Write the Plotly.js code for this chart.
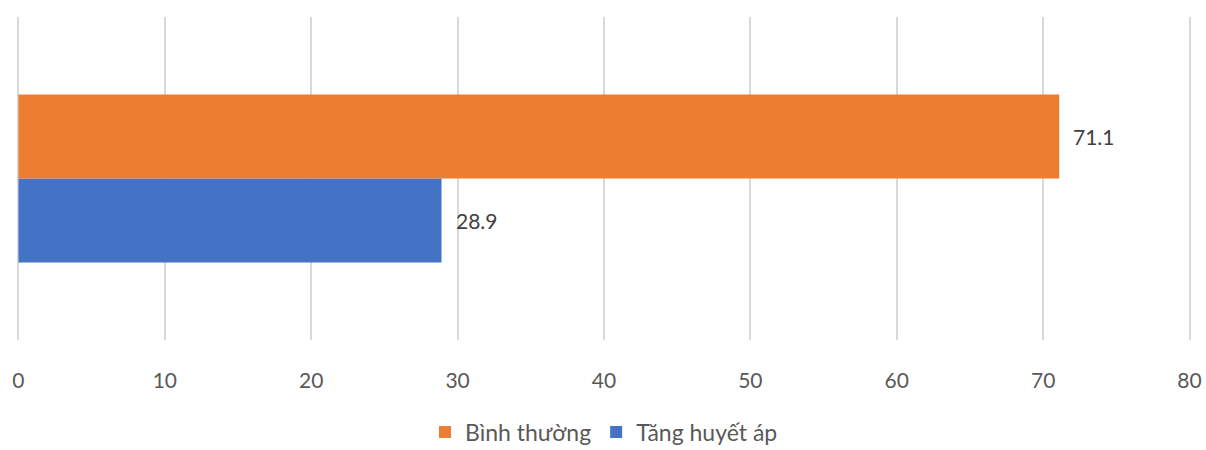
<!DOCTYPE html>
<html>
<head>
<meta charset="utf-8">
<script src="https://cdn.plot.ly/plotly-3.0.1.min.js"></script>
<style>html,body{margin:0;padding:0;background:#fff;}#chart{width:1206px;height:450px;}</style>
</head>
<body>
<div id="chart"></div>
<script>
const categories = [""];
const seriesNames = ["Bình thường", "Tăng huyết áp"];
const normalValues = [71.1];
const hypertensionValues = [28.9];
const tickValues = [0, 10, 20, 30, 40, 50, 60, 70, 80];
const colors = {normal: "#ED7D31", hyper: "#4472C4"};

const FONT = "Lato, 'Open Sans', sans-serif";

const traces = [
  {
    type: "bar", orientation: "h", name: seriesNames[1],
    y: categories, x: hypertensionValues,
    marker: {color: colors.hyper}, legendrank: 2, hoverinfo: "none"
  },
  {
    type: "bar", orientation: "h", name: seriesNames[0],
    y: categories, x: normalValues,
    marker: {color: colors.normal}, legendrank: 1, hoverinfo: "none"
  }
];

// data labels from the arrays
const annotations = [];
[[hypertensionValues, -1], [normalValues, 1]].forEach(([vals, side]) => {
  vals.forEach((v, i) => {
    annotations.push({
      x: v, y: i, xref: "x", yref: "y",
      yshift: side * 42,
      text: v.toFixed(1), showarrow: false,
      xanchor: "left", xshift: 12,
      font: {family: FONT, size: 21, color: "#404040"}
    });
  });
});

const layout = {
  width: 1206, height: 450,
  margin: {l: 16.5, r: 14.5, t: 17, b: 110, autoexpand: false},
  paper_bgcolor: "#fff", plot_bgcolor: "#fff",
  barmode: "group", bargap: 0.48, bargroupgap: 0,
  font: {family: FONT, color: "#595959"},
  xaxis: {
    range: [-0.1, 80.1], tickvals: tickValues, ticktext: tickValues.map(String),
    showgrid: true, gridcolor: "#D9D9D9", gridwidth: 2,
    zeroline: true, zerolinecolor: "#D9D9D9", zerolinewidth: 2,
    showline: false, ticks: "",
    ticklabelstandoff: 26, automargin: false,
    tickfont: {family: FONT, size: 21, color: "#595959"},
    fixedrange: true
  },
  yaxis: {showticklabels: false, showgrid: false, zeroline: false, ticks: "", fixedrange: true, automargin: false},
  showlegend: true,
  legend: {
    orientation: "h", x: 0.5, xanchor: "center",
    yref: "container", y: 0.04, yanchor: "middle",
    font: {family: FONT, size: 23, color: "#595959"},
    itemwidth: 30, traceorder: "normal"
  },
  annotations: annotations
};

Plotly.newPlot("chart", traces, layout, {displayModeBar: false, staticPlot: true});
</script>
</body>
</html>
